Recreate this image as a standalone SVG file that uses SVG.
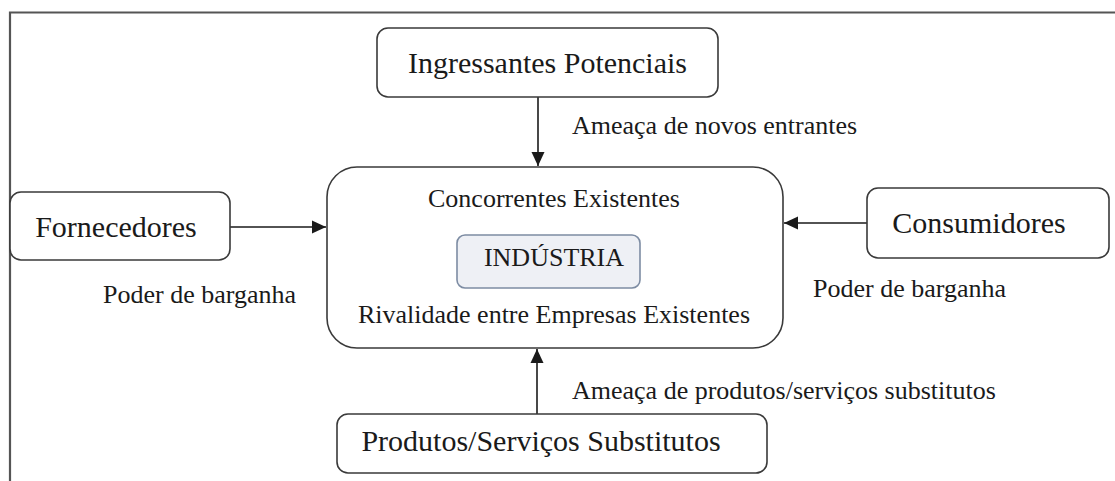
<svg xmlns="http://www.w3.org/2000/svg" width="1115" height="481" viewBox="0 0 1115 481">
<style>
.box{fill:#fff;stroke:#3a3a3a;stroke-width:1.6}
.big{font-family:"Liberation Serif",serif;font-size:30px;fill:#1a1a1a}
.lbl{font-family:"Liberation Serif",serif;font-size:26px;fill:#1a1a1a}
.con{stroke:#1a1a1a;stroke-width:1.6;fill:none}
</style>
<defs>
<marker id="ah" markerUnits="userSpaceOnUse" markerWidth="14" markerHeight="14" viewBox="0 0 14 14" refX="14" refY="7" orient="auto">
<path d="M0,0.5 L14,7 L0,13.5 Z" fill="#1a1a1a"/>
</marker>
</defs>
<rect width="1115" height="481" fill="#fff"/>
<g id="frame">
<path d="M10,481 L10,12.5 L1115,12.5" fill="none" stroke="#555" stroke-width="2.2"/>
</g>
<g id="connectors">
<line class="con" x1="538" y1="97" x2="538" y2="166" marker-end="url(#ah)"/>
<line class="con" x1="230" y1="227" x2="326" y2="227" marker-end="url(#ah)"/>
<line class="con" x1="867" y1="223" x2="784" y2="223" marker-end="url(#ah)"/>
<line class="con" x1="537" y1="414" x2="537" y2="349" marker-end="url(#ah)"/>
<text class="lbl" x="572" y="134">Ameaça de novos entrantes</text>
<text class="lbl" x="103" y="303">Poder de barganha</text>
<text class="lbl" x="813" y="297">Poder de barganha</text>
<text class="lbl" x="572" y="399">Ameaça de produtos/serviços substitutos</text>
</g>
<g id="ingressantes">
<rect class="box" x="377" y="28" width="341" height="69" rx="11"/>
<text class="big" x="547.5" y="73" text-anchor="middle">Ingressantes Potenciais</text>
</g>
<g id="fornecedores">
<rect class="box" x="10" y="192" width="220" height="68" rx="11"/>
<text class="big" x="116" y="237" text-anchor="middle">Fornecedores</text>
</g>
<g id="consumidores">
<rect class="box" x="867" y="188" width="242" height="70" rx="11"/>
<text class="big" x="979" y="233" text-anchor="middle">Consumidores</text>
</g>
<g id="concorrentes">
<rect class="box" x="327" y="167" width="456" height="181" rx="30"/>
<text class="lbl" x="554" y="207" text-anchor="middle">Concorrentes Existentes</text>
<text class="lbl" x="554" y="323" text-anchor="middle">Rivalidade entre Empresas Existentes</text>
</g>
<g id="industria">
<rect x="457" y="235" width="183" height="53" rx="8" fill="#eef0f5" stroke="#7d8ca3" stroke-width="1.6"/>
<text class="lbl" x="554" y="266" text-anchor="middle">INDÚSTRIA</text>
</g>
<g id="produtos">
<rect class="box" x="337" y="414" width="430" height="59" rx="11"/>
<text class="big" x="541" y="451" text-anchor="middle">Produtos/Serviços Substitutos</text>
</g>
</svg>
